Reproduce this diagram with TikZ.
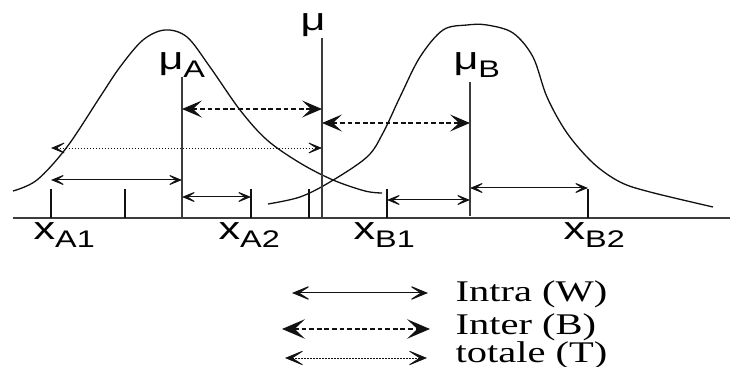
\documentclass[tikz,border=0pt]{standalone}
\usepackage{fontspec}
\setmainfont{Liberation Serif}
\newfontfamily\lblfont{Liberation Sans}
\usetikzlibrary{arrows.meta}
\definecolor{ink}{HTML}{111111}
\definecolor{bar}{HTML}{3C3C3C}
\newcommand\subtag[1]{\raisebox{-3.8pt}{\fontsize{12}{12}\selectfont #1}}
\tikzset{
  curve/.style={ink, line width=0.65pt},
  tick/.style={ink, line width=0.6pt},
  meanline/.style={bar, line width=1.1pt},
  intra/.style={ink, line width=0.5pt,
    {Stealth[length=8.5pt, width=7pt, inset=5.4pt, scale=#1]}-{Stealth[length=8.5pt, width=7pt, inset=5.4pt, scale=#1]}},
  intra/.default=1,
  inter/.style={ink, line width=0.7pt, dash pattern=on 2.4pt off 1.4pt,
    {Stealth[length=10pt, width=8.5pt, inset=4.5pt, scale=#1]}-{Stealth[length=10pt, width=8.5pt, inset=4.5pt, scale=#1]}},
  inter/.default=1,
  totale/.style={ink, line width=0.4pt, dash pattern=on 0.8pt off 0.7pt,
    {Stealth[length=8.5pt, width=7pt, inset=5.4pt, scale=#1]}-{Stealth[length=8.5pt, width=7pt, inset=5.4pt, scale=#1]}},
  totale/.default=1,
  lbl/.style={font=\lblfont\fontsize{16}{16}\selectfont, inner sep=0pt, anchor=base west, xscale=1.35, transform shape},
  leg/.style={font=\fontsize{15}{15}\selectfont, inner sep=0pt, anchor=base west, xscale=1.35, transform shape},
}
\begin{document}
\begin{tikzpicture}[x=0.5pt, y=-0.5pt]
  \useasboundingbox (0,0) rectangle (730,367);
  % axis and sample ticks
  \draw[bar, line width=0.7pt] (13,218) -- (730,218);
  \foreach \nm/\xx in {xA1/51, xA0/125, xA2/251, xM0/309, xB1/387, xB2/588} {
    \coordinate (\nm) at (\xx,218);
    \draw[tick] (\nm) -- ++(0,-29);
  }
  % the two class densities
  \draw[curve] plot[smooth, tension=0.55] coordinates {(13,191) (37,180) (67,147) (100,97) (120,67)
    (143,40) (165,30) (187,37) (210,67) (240,110) (267,140) (300,163) (333,180) (365,191) (382,193)};
  \draw[curve] plot[smooth, tension=0.55] coordinates {(268,204) (300,197) (330,182) (367,157) (383,133)
    (400,97) (420,57) (443,30) (467,25) (487,25) (513,33) (533,57) (547,97) (567,133) (593,163)
    (620,182) (650,192) (713,207)};
  % means
  \coordinate (muA) at (182,218);
  \coordinate (mu) at (322,218);
  \coordinate (muB) at (470,216);
  \draw[meanline] (muA) -- ++(0,-141);
  \draw[meanline] (mu) -- ++(0,-180);
  \draw[meanline] (muB) -- ++(0,-134);
  % levels of the arrows
  \coordinate (lvInterA) at (0,109);
  \coordinate (lvInterB) at (0,123);
  \coordinate (lvTot) at (0,148);
  \coordinate (lvA1) at (0,180);
  \coordinate (lvA2) at (0,197);
  \coordinate (lvB1) at (0,200);
  \coordinate (lvB2) at (0,188);
  \draw[inter] (muA |- lvInterA) -- (mu |- lvInterA);
  \draw[inter] (mu |- lvInterB) -- (muB |- lvInterB);
  \draw[totale] (xA1 |- lvTot) -- (mu |- lvTot);
  \draw[intra] (xA1 |- lvA1) -- (muA |- lvA1);
  \draw[intra] (muA |- lvA2) -- (xA2 |- lvA2);
  \draw[intra] (xB1 |- lvB1) -- (muB |- lvB1);
  \draw[intra] (muB |- lvB2) -- (xB2 |- lvB2);
  % labels
  \node[lbl] (tmu) at (300,31) {μ};
  \node[lbl] (tmuA) at (158,70) {μ\subtag{A}};
  \node[lbl] (tmuB) at (453,70) {μ\subtag{B}};
  \node[lbl] (txA1) at (33,240) {x\subtag{A1}};
  \node[lbl] (txA2) at (218,240) {x\subtag{A2}};
  \node[lbl] (txB1) at (353,240) {x\subtag{B1}};
  \node[lbl] (txB2) at (563,240) {x\subtag{B2}};
  % legend
  \coordinate (legIa) at (292,293);
  \coordinate (legIb) at (428,293);
  \coordinate (legBa) at (282,329);
  \coordinate (legBb) at (430,329);
  \coordinate (legTa) at (285,358);
  \coordinate (legTb) at (427,358);
  \draw[intra=1.25] (legIa) -- (legIb);
  \draw[inter=1.15] (legBa) -- (legBb);
  \draw[totale=1.25] (legTa) -- (legTb);
  \node[leg] (legW) at (455,302) {Intra (W)};
  \node[leg] (legB) at (455,335) {Inter (B)};
  \node[leg] (legT) at (455,363) {totale (T)};
\end{tikzpicture}
\end{document}
